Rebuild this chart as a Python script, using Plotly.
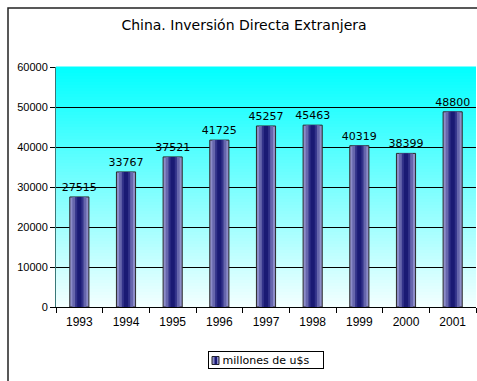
import plotly.graph_objects as go

years = ["1993", "1994", "1995", "1996", "1997", "1998", "1999", "2000", "2001"]
values = [27515, 33767, 37521, 41725, 45257, 45463, 40319, 38399, 48800]
y_ticks = [0, 10000, 20000, 30000, 40000, 50000, 60000]
series_name = "millones de u$s"
title_text = "China. Inversión Directa Extranjera"

FONT = "Liberation Sans, Arial, sans-serif"
WIDE = "DejaVu Sans, sans-serif"
W, H = 477, 381
L, R, T, B = 56, 1, 67, 74
pw = W - L - R
ph = H - T - B


def px_x(p):
    return (p - L) / pw


def px_y(p):
    return (H - B - p) / ph


fig = go.Figure()

# cylinder-like shading by overlaying narrower bars
layers = [
    (0.41, "#8c8cc8", dict(color="#2a2a2a", width=1), True),
    (0.30, "#6666ac", dict(width=0), False),
    (0.18, "#33338a", dict(width=0), False),
    (0.09, "#1a1a74", dict(width=0), False),
]
for w, col, ln, main in layers:
    fig.add_trace(go.Bar(
        x=years, y=values, width=w,
        marker=dict(color=col, line=ln),
        name=series_name, showlegend=False,
        text=[str(v) for v in values] if main else None,
        textposition="outside" if main else "none",
        constraintext="none",
        textfont=dict(family=WIDE, size=11, color="black"),
        cliponaxis=False,
    ))

# background gradient (cyan top -> near white bottom)
shapes = []
n = 80
top = (0x00, 0xff, 0xff)
bot = (0xf4, 0xff, 0xff)
for i in range(n):
    t = (i + 0.5) / n
    c = tuple(round(bot[k] + (top[k] - bot[k]) * t) for k in range(3))
    shapes.append(dict(type="rect", xref="x domain", yref="y domain",
                       x0=0, x1=1, y0=i / n, y1=(i + 1) / n + 0.002,
                       fillcolor="rgb(%d,%d,%d)" % c, line=dict(width=0),
                       layer="below"))
# outer chart frame
shapes.append(dict(type="rect", xref="paper", yref="paper",
                   x0=px_x(8), x1=px_x(W + 10),
                   y0=px_y(H + 10), y1=px_y(8),
                   line=dict(color="#222222", width=1.5), fillcolor="rgba(0,0,0,0)",
                   layer="above"))

# legend (drawn manually to match the compact box)
annotations = [dict(
    text=series_name, xref="paper", yref="paper",
    x=px_x(266), y=px_y(360), xanchor="center", yanchor="middle",
    showarrow=False, width=110, height=12, align="center", valign="middle",
    bordercolor="black", borderwidth=1, borderpad=2, bgcolor="rgba(0,0,0,0)",
    font=dict(family=WIDE, size=11, color="black"),
)]
legend_icon = [
    (212, 219, "#8c8cc8", dict(color="#222222", width=1)),
    (214.5, 217, "#1a1a74", dict(width=0)),
]
for x0, x1, col, ln in legend_icon:
    shapes.append(dict(type="rect", xref="paper", yref="paper",
                       x0=px_x(x0), x1=px_x(x1), y0=px_y(364.5), y1=px_y(356.5),
                       fillcolor=col, line=ln, layer="above"))

fig.update_layout(
    width=W, height=H,
    margin=dict(l=L, r=R, t=T, b=B, pad=0),
    paper_bgcolor="white", plot_bgcolor="rgba(0,0,0,0)",
    barmode="overlay",
    shapes=shapes,
    annotations=annotations,
    title=dict(text=title_text, x=244 / W, xanchor="center",
               y=1 - 25 / H, yanchor="middle",
               font=dict(family=WIDE, size=14, color="black")),
    font=dict(family=FONT, size=11, color="black"),
    showlegend=False,
)
fig.update_xaxes(
    type="category", showgrid=False, showline=True, linecolor="black", linewidth=1,
    ticks="outside", tickson="boundaries", ticklen=5, tickcolor="black",
    ticklabelstandoff=4,
    tickfont=dict(family=FONT, size=12, color="black"),
)
fig.update_yaxes(
    range=[0, 60000], tickvals=y_ticks, ticktext=[str(v) for v in y_ticks],
    showgrid=True, gridcolor="black", gridwidth=1,
    showline=True, linecolor="#3a7878", linewidth=1,
    ticks="outside", ticklen=5, tickcolor="black",
    tickfont=dict(family=FONT, size=11, color="black"), zeroline=False,
)

fig.write_html("out.html")
